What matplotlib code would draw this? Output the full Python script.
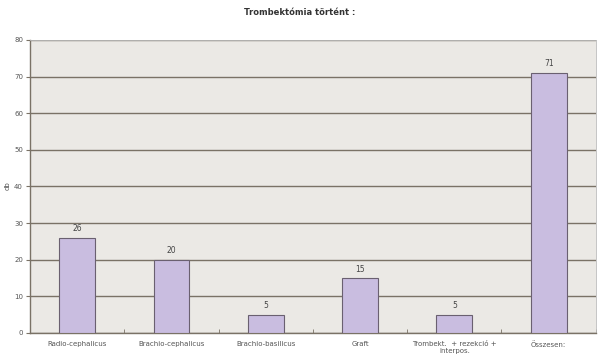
import numpy as np
from matplotlib import pyplot as plt

categories = ["Radio-cephalicus", "Brachio-cephalicus", "Brachio-basilicus",
              "Graft", "Trombekt.  + rezekció +\ninterpos.", "Összesen:"]
values = [26, 20, 5, 15, 5, 71]

fig = plt.figure(figsize=(6, 3.63), dpi=100)
ax = fig.add_axes([0.05, 0.083, 0.943, 0.807])
ax.set_facecolor('#ebe9e5')

x = np.arange(len(categories))
bars = ax.bar(x, values, width=0.38, color='#c9bde0', edgecolor='#6a6070', linewidth=0.8, zorder=3)
for xi, v in zip(x, values):
    ax.text(xi, v + 1.2, str(v), ha='center', va='bottom', fontsize=5.5, color='#444444')

ax.set_xlim(-0.5, len(categories) - 0.5)
ax.set_ylim(0, 80)
ax.set_yticks(range(0, 81, 10))
ax.yaxis.grid(True, color='#7a7266', linewidth=1.0, zorder=1)
ax.set_xticks(x)
ax.set_xticklabels(categories, fontsize=5, color='#555555')
ax.set_xticks(np.arange(-0.5, len(categories), 1), minor=True)
ax.tick_params(axis='x', which='major', length=0, pad=6)
ax.tick_params(axis='x', which='minor', length=3, color='#7a7266', direction='in')
ax.tick_params(axis='y', labelsize=5, labelcolor='#555555', color='#7a7266', length=3, pad=2)
for s in ['top', 'right']:
    ax.spines[s].set_color('#bbbbbb')
    ax.spines[s].set_linewidth(0.6)
for s in ['left', 'bottom']:
    ax.spines[s].set_color('#7a7266')
    ax.spines[s].set_linewidth(1.0)

fig.text(0.012, 0.49, "db", fontsize=5, color='#555555', rotation=90,
         ha='center', va='center')
fig.text(0.5, 0.965, "Trombektómia történt :", ha='center', va='center',
         fontsize=6, fontweight='bold', color='#333333')

plt.savefig('out.png', dpi=100)
